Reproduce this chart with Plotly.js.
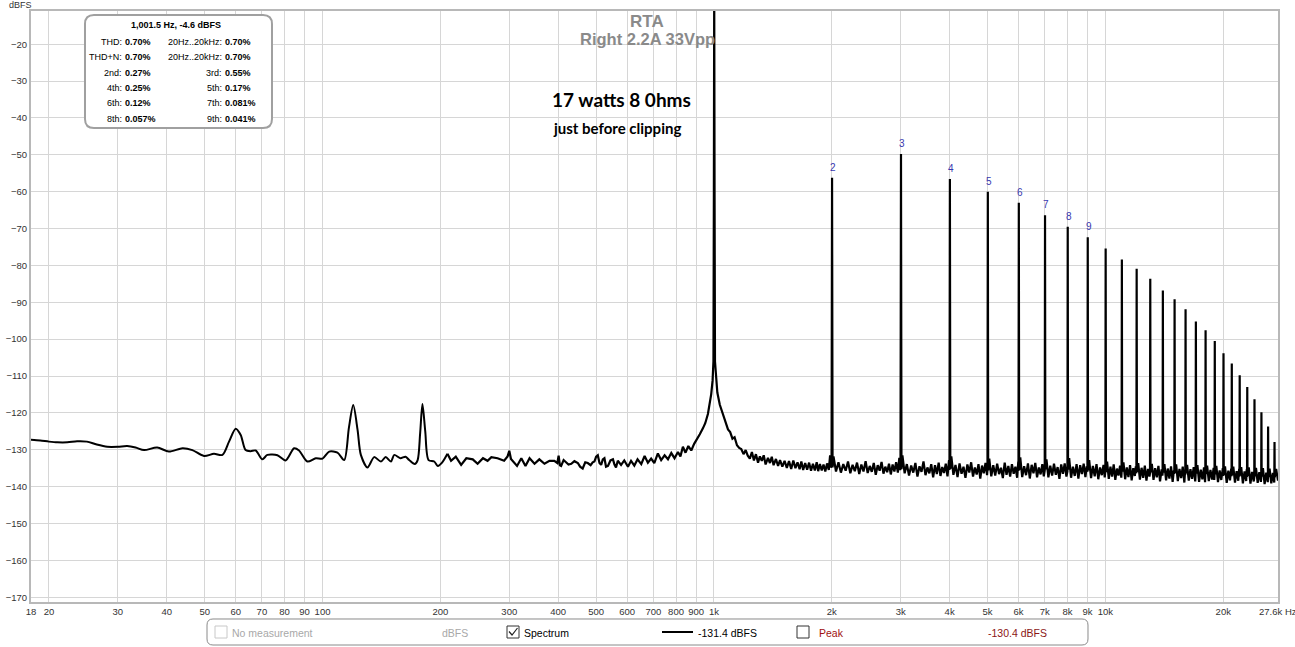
<!DOCTYPE html>
<html>
<head>
<meta charset="utf-8">
<script src="https://cdn.plot.ly/plotly-3.0.1.min.js"></script>
<style>
html,body{margin:0;padding:0;background:#fff;}
#chart{width:1295px;height:647px;}
</style>
</head>
<body>
<div id="chart"></div>
<script>
// ---------------- DATA ----------------
// Low-frequency part of the spectrum (smooth), Hz / dBFS
const lowFreq = [18, 19, 20, 21, 22.3, 23.6, 25, 26.5, 28.2, 30,
  31.7, 33.3, 35, 37.8, 40.5, 43.9, 46.5, 49.8, 52.8, 55.5,
  57.7, 60, 61.8, 63.6, 65.5, 67.5, 70.2, 72.3, 76.7, 80.5,
  84.6, 87.1, 91.5, 96.1, 100, 104, 109.2, 113.6, 116.8, 119.8,
  122.9, 125.3, 130.3, 135.5, 141, 145, 149.5, 152.5, 158, 163,
  166.5, 172, 175, 177.6, 180, 183, 186.6, 192.9, 197, 202,
  208.5];
const lowLevel = [-127.3, -127.5, -127.8, -128.0, -128.0, -127.7, -127.8, -128.6, -129.2, -129.2,
  -129.0, -129.4, -130.1, -129.4, -130.5, -129.6, -130.1, -131.7, -131.1, -131.4,
  -127.8, -124.3, -126.0, -130.1, -130.4, -130.2, -132.6, -131.4, -131.5, -132.9,
  -129.6, -130.2, -133.2, -132.3, -132.4, -130.5, -130.8, -132.8, -124.0, -117.9,
  -124.6, -131.4, -134.8, -132.0, -133.2, -132.0, -133.2, -131.4, -132.3, -131.9,
  -132.8, -133.9, -132.8, -125.5, -117.6, -125.0, -132.8, -133.2, -134.4, -133.5,
  -131.1];

// Rest of the spectrum (noise floor + fundamental), Hz / dBFS
const spectrumFreq = [
  208.5, 213, 219, 226, 233, 242, 249, 257, 264, 270,
  280, 291, 297, 300, 303, 306, 314, 322, 330, 338,
  348, 358, 369, 380, 391, 398, 401, 404, 407, 413,
  419, 425, 432, 440, 449, 455, 462, 469, 476, 484,
  490, 495, 500, 505, 510, 515, 520, 525, 530, 536,
  544, 552, 557, 562, 568, 573, 579, 590, 603, 614,
  626, 638, 652, 665, 678, 691, 704, 719, 733, 748,
  763, 778, 793, 809, 821, 833, 846, 860, 875, 890,
  900, 910, 920, 937, 950, 965, 975, 984, 992, 997,
  999.5, 1001.5, 1003.5, 1006, 1012, 1020, 1035, 1054, 1070, 1086,
  1100, 1115, 1129, 1145, 1160, 1174, 1190, 1205, 1220, 1235,
  1250, 1265, 1280, 1296, 1310, 1325, 1340, 1355, 1374, 1390,
  1405, 1420, 1440, 1458, 1475, 1495, 1515, 1535, 1555, 1575,
  1595, 1615, 1635, 1655, 1672, 1690, 1710, 1730, 1750, 1770,
  1790, 1810, 1830, 1846, 1865, 1885, 1905, 1925, 1945, 1965,
  1980, 1990, 1997, 2009, 2020, 2050, 2080, 2110, 2140, 2170,
  2200, 2230, 2260, 2290, 2320, 2350, 2380, 2410, 2440, 2470,
  2500, 2530, 2560, 2590, 2620, 2650, 2680, 2710, 2740, 2770,
  2800, 2830, 2860, 2890, 2920, 2950, 2975, 2990, 2996, 3013,
  3030, 3070, 3110, 3150, 3190, 3230, 3270, 3310, 3350, 3390,
  3430, 3470, 3510, 3550, 3590, 3630, 3670, 3710, 3750, 3790,
  3830, 3870, 3910, 3950, 3985, 3996, 4016, 4040, 4090, 4140,
  4190, 4240, 4290, 4340, 4390, 4440, 4490, 4540, 4590, 4640,
  4690, 4740, 4790, 4840, 4890, 4940, 4985, 4997, 5018, 5050,
  5110, 5170, 5230, 5290, 5350, 5410, 5470, 5530, 5590, 5650,
  5710, 5770, 5830, 5890, 5950, 5990, 5997, 6021, 6060, 6130,
  6200, 6270, 6340, 6410, 6480, 6550, 6620, 6690, 6760, 6830,
  6900, 6960, 6998, 7023, 7070, 7150, 7230, 7310, 7390, 7470,
  7550, 7630, 7710, 7790, 7870, 7950, 7998, 8026, 8080, 8170,
  8260, 8350, 8440, 8530, 8620, 8710, 8800, 8890, 8960, 8997,
  9030, 9090, 9190, 9290, 9390, 9490, 9590, 9690, 9790, 9890,
  9960, 9997, 10033, 10100, 10200, 10300, 10400, 10500, 10600, 10700,
  10800, 10900, 10980, 10998, 11035, 11120, 11230, 11340, 11450, 11560,
  11670, 11780, 11890, 11960, 11998, 12038, 12130, 12250, 12370, 12490,
  12610, 12730, 12850, 12960, 12999, 13040, 13140, 13270, 13400, 13530,
  13660, 13790, 13920, 13980, 13999, 14043, 14150, 14290, 14430, 14570,
  14710, 14850, 14960, 14999, 15046, 15160, 15310, 15460, 15610, 15760,
  15910, 15980, 15999, 16049, 16170, 16330, 16490, 16650, 16810, 16960,
  16999, 17052, 17180, 17350, 17520, 17690, 17860, 17970, 18000, 18054,
  18190, 18370, 18550, 18730, 18900, 18970, 19000, 19057, 19200, 19390,
  19580, 19770, 19950, 20001, 20059, 20210, 20410, 20610, 20810, 20960,
  21002, 21061, 21220, 21430, 21640, 21850, 21960, 22002, 22064, 22230,
  22450, 22670, 22890, 22960, 23003, 23066, 23240, 23470, 23700, 23930,
  24004, 24068, 24250, 24490, 24730, 24960, 25005, 25070, 25260, 25510,
  25760, 25990, 26006, 26072, 26270, 26530, 26790, 27000, 27007, 27074,
  27300, 27600];
const spectrumLevel = [
  -131.1, -133.0, -131.9, -134.1, -132.3, -132.6, -133.8, -132.3, -133.0, -132.0,
  -132.3, -133.0, -131.8, -130.3, -132.5, -133.0, -134.4, -132.3, -134.4, -132.3,
  -133.8, -132.6, -133.8, -133.0, -133.0, -133.6, -131.6, -134.2, -134.4, -132.8,
  -133.3, -134.0, -133.8, -133.1, -133.6, -134.6, -135.1, -133.4, -133.6, -134.2,
  -133.4, -133.2, -131.9, -131.5, -133.6, -134.1, -132.6, -132.3, -134.6, -134.4,
  -132.9, -132.6, -134.0, -134.8, -133.0, -133.6, -134.1, -132.9, -134.6, -133.0,
  -134.3, -132.6, -133.9, -131.7, -133.5, -132.4, -133.6, -131.0, -132.8, -131.5,
  -132.6, -130.9, -132.3, -130.6, -131.8, -129.2, -130.8, -129.0, -130.2, -128.4,
  -127.6, -126.9, -125.8, -124.2, -122.8, -120.3, -117.8, -114.9, -111.2, -106.0,
  -60.0, -4.6, -60.0, -106.0, -110.8, -114.5, -117.8, -120.2, -122.6, -124.5,
  -125.2, -127.0, -126.6, -128.8, -129.5, -129.8, -131.2, -130.1, -131.6, -132.4,
  -130.6, -132.9, -131.2, -133.5, -131.8, -133.0, -131.5, -134.0, -132.2, -133.6,
  -131.9, -134.2, -132.5, -134.4, -132.8, -134.6, -133.0, -134.9, -133.1, -135.2,
  -132.9, -135.0, -133.4, -135.3, -133.2, -135.5, -133.6, -135.4, -133.5, -135.7,
  -133.8, -135.6, -133.4, -135.8, -133.9, -135.6, -134.0, -135.9, -133.7, -135.5,
  -131.5, -134.8, -134.5, -134.8, -131.8, -135.9, -133.4, -136.2, -133.9, -135.7,
  -133.2, -136.4, -134.1, -135.8, -133.5, -136.6, -134.0, -135.9, -133.1, -136.3,
  -134.4, -136.0, -133.6, -136.8, -134.2, -135.7, -133.3, -136.5, -134.6, -136.1,
  -133.8, -136.7, -134.0, -135.9, -133.4, -136.2, -132.2, -135.5, -135.0, -135.3,
  -131.5, -136.4, -133.9, -137.0, -134.3, -136.2, -133.6, -137.3, -134.5, -136.0,
  -133.2, -136.9, -134.8, -136.4, -133.9, -137.5, -134.2, -136.6, -133.5, -137.1,
  -134.7, -136.3, -133.8, -137.2, -132.9, -135.5, -135.2, -131.8, -136.8, -134.1,
  -137.4, -133.7, -136.5, -134.6, -137.6, -134.0, -136.2, -133.4, -137.3, -134.8,
  -136.7, -133.9, -137.8, -134.3, -136.4, -133.6, -136.9, -135.4, -135.6, -132.4,
  -137.2, -134.2, -137.0, -133.8, -136.6, -134.9, -137.7, -133.5, -136.8, -134.4,
  -137.3, -133.9, -136.5, -134.6, -137.6, -133.2, -135.8, -135.5, -132.1, -137.4,
  -134.5, -136.9, -133.7, -137.8, -134.1, -136.4, -133.6, -137.5, -134.8, -136.7,
  -133.9, -137.2, -135.6, -135.3, -132.6, -137.5, -134.3, -137.0, -133.8, -136.8,
  -134.7, -137.9, -134.0, -136.5, -133.7, -137.3, -135.9, -135.4, -132.3, -137.6,
  -134.6, -137.1, -133.9, -137.8, -134.2, -136.6, -133.8, -137.4, -134.5, -136.0,
  -135.6, -132.8, -137.7, -134.4, -137.2, -133.9, -138.0, -134.8, -136.9, -134.1,
  -137.5, -135.8, -136.1, -133.2, -137.9, -134.6, -137.3, -134.0, -138.2, -135.1,
  -137.0, -134.3, -137.6, -136.2, -135.9, -133.4, -138.0, -134.8, -137.4, -134.2,
  -138.3, -135.0, -137.1, -134.5, -136.4, -136.0, -133.6, -138.1, -134.9, -137.6,
  -134.3, -138.4, -135.2, -137.3, -136.3, -136.1, -133.8, -138.2, -135.0, -137.5,
  -134.4, -138.6, -135.3, -137.0, -136.5, -136.2, -133.9, -138.3, -135.1, -137.8,
  -134.5, -138.7, -135.6, -136.6, -136.3, -134.0, -138.5, -135.2, -137.7, -134.6,
  -138.9, -135.7, -136.8, -136.4, -134.1, -138.4, -135.3, -137.9, -134.7, -138.6,
  -136.7, -136.5, -134.2, -138.7, -135.4, -138.0, -134.8, -138.8, -136.9, -136.6,
  -134.3, -138.5, -135.5, -138.1, -134.9, -138.2, -137.0, -136.7, -134.4, -138.8,
  -135.6, -138.2, -135.0, -137.1, -136.8, -134.5, -139.0, -135.7, -138.3, -135.1,
  -137.2, -136.9, -134.6, -138.9, -135.8, -138.4, -135.2, -137.3, -137.0, -134.7,
  -139.1, -135.9, -138.5, -135.3, -137.4, -137.1, -134.8, -139.2, -136.0, -138.6,
  -137.5, -137.2, -134.9, -139.0, -136.1, -138.7, -137.6, -137.3, -135.0, -139.3,
  -136.2, -138.8, -137.7, -137.4, -135.1, -139.1, -136.3, -138.9, -137.6, -137.5,
  -135.2, -138.4];

// Harmonic peaks
const harmonicOrder = [2, 3, 4, 5, 6, 7, 8, 9, 10, 11, 12, 13, 14, 15, 16, 17, 18, 19, 20, 21, 22, 23, 24, 25, 26, 27];
const harmonicFreq = [2003, 3004.5, 4006, 5007.5, 6009, 7010.5, 8012, 9013.5, 10015, 11016.5,
  12018, 13019.5, 14021, 15022.5, 16024, 17025.5, 18027, 19028.5, 20030, 21031.5,
  22033, 23034.5, 24036, 25037.5, 26039, 27040.5];
const harmonicLevel = [-56.2, -49.8, -56.6, -60.0, -63.0, -66.4, -69.5, -72.4, -75.4, -78.4,
  -80.9, -83.6, -86.8, -89.2, -91.9, -95.2, -97.6, -100.5, -103.8, -106.6,
  -109.8, -113.0, -116.3, -119.8, -123.7, -127.9];
const labelledOrders = [2, 3, 4, 5, 6, 7, 8, 9];

// Axis ticks
const xTickVals = [18, 20, 30, 40, 50, 60, 70, 80, 90, 100, 200, 300, 400, 500, 600, 700, 800, 900, 1000,
  2000, 3000, 4000, 5000, 6000, 7000, 8000, 9000, 10000, 20000];
const xTickText = ['18', '20', '30', '40', '50', '60', '70', '80', '90', '100', '200', '300', '400', '500', '600', '700', '800', '900', '1k',
  '2k', '3k', '4k', '5k', '6k', '7k', '8k', '9k', '10k', '20k'];
const yTickVals = [-170, -160, -150, -140, -130, -120, -110, -100, -90, -80, -70, -60, -50, -40, -30, -20];
const xRangeHz = [18, 27600];
const yRangeDb = [-171.3, -11.0];

// Texts
const titleLines = ['RTA', 'Right 2.2A 33Vpp'];
const noteLines = ['17 watts 8 0hms', 'just before clipping'];
const infoHeader = '1,001.5 Hz, -4.6 dBFS';
const infoLeftLabels = ['THD:', 'THD+N:', '2nd:', '4th:', '6th:', '8th:'];
const infoLeftValues = ['0.70%', '0.70%', '0.27%', '0.25%', '0.12%', '0.057%'];
const infoRightLabels = ['20Hz..20kHz:', '20Hz..20kHz:', '3rd:', '5th:', '7th:', '9th:'];
const infoRightValues = ['0.70%', '0.70%', '0.55%', '0.17%', '0.081%', '0.041%'];

// ---------------- LAYOUT HELPERS ----------------
const L = 31, R = 1278, T = 11, B = 602;
const W = R - L, H = B - T;
const px = x => (x - L) / W;
const py = y => (B - y) / H;
const FONT = 'Liberation Sans, Arial, sans-serif';

function roundRect(x0, y0, x1, y1, r) {
  const X = v => px(v).toFixed(5), Y = v => py(v).toFixed(5);
  return 'M' + X(x0 + r) + ',' + Y(y0) +
    ' L' + X(x1 - r) + ',' + Y(y0) + ' Q' + X(x1) + ',' + Y(y0) + ' ' + X(x1) + ',' + Y(y0 + r) +
    ' L' + X(x1) + ',' + Y(y1 - r) + ' Q' + X(x1) + ',' + Y(y1) + ' ' + X(x1 - r) + ',' + Y(y1) +
    ' L' + X(x0 + r) + ',' + Y(y1) + ' Q' + X(x0) + ',' + Y(y1) + ' ' + X(x0) + ',' + Y(y1 - r) +
    ' L' + X(x0) + ',' + Y(y0 + r) + ' Q' + X(x0) + ',' + Y(y0) + ' ' + X(x0 + r) + ',' + Y(y0) + ' Z';
}
function ann(x, y, text, size, color, anchor, extra) {
  return Object.assign({
    xref: 'paper', yref: 'paper', x: px(x), y: py(y), text: text, showarrow: false,
    xanchor: anchor || 'left', yanchor: 'middle', borderpad: 0,
    font: {family: FONT, size: size, color: color}
  }, extra || {});
}
function rectShape(x0, y0, x1, y1, color, width, fill) {
  return {type: 'rect', xref: 'paper', yref: 'paper', x0: px(x0), x1: px(x1), y0: py(y0), y1: py(y1),
    line: {color: color, width: width}, fillcolor: fill || 'rgba(0,0,0,0)', layer: 'above'};
}

// ---------------- TRACES ----------------
const pts = spectrumFreq.map((f, i) => [f, spectrumLevel[i]])
  .concat(harmonicFreq.map((f, i) => [f, harmonicLevel[i]]))
  .sort((a, b) => a[0] - b[0]);

const traces = [
  {x: lowFreq, y: lowLevel, type: 'scatter', mode: 'lines',
   line: {color: '#000', width: 2, shape: 'spline', smoothing: 0.8}, hoverinfo: 'skip'},
  {x: pts.map(p => p[0]), y: pts.map(p => p[1]), type: 'scatter', mode: 'lines',
   line: {color: '#000', width: 2.2}, hoverinfo: 'skip'}
];

// ---------------- ANNOTATIONS ----------------
const annotations = [];
annotations.push(ann(8, 5, 'dBFS', 9, '#333'));
annotations.push(ann(1258, 612, '27.6k Hz', 9.5, '#333'));
annotations.push(ann(647, 21, '<b>' + titleLines[0] + '</b>', 17, '#8a8a8a', 'center'));
annotations.push(ann(647, 39.5, '<b>' + titleLines[1] + '</b>', 16.5, '#8a8a8a', 'center'));
annotations.push(ann(621, 99.5, '<b>' + noteLines[0] + '</b>', 19, '#000', 'center', {font: {family: 'Lato, sans-serif', size: 19, color: '#000'}}));
annotations.push(ann(616.5, 127.5, '<b>' + noteLines[1] + '</b>', 15, '#000', 'center', {font: {family: 'Lato, sans-serif', size: 15, color: '#000'}}));

// info box text
annotations.push(ann(176, 25.5, '<b>' + infoHeader + '</b>', 9, '#000', 'center'));
const rowY = [42.3, 57.4, 72.6, 87.9, 103.2, 118.6];
rowY.forEach((y, i) => {
  annotations.push(ann(122.5, y, infoLeftLabels[i], 9, '#000', 'right'));
  annotations.push(ann(124, y, '<b>' + infoLeftValues[i] + '</b>', 9, '#000', 'left'));
  annotations.push(ann(222.5, y, infoRightLabels[i], 9, '#000', 'right'));
  annotations.push(ann(224, y, '<b>' + infoRightValues[i] + '</b>', 9, '#000', 'left'));
});

// harmonic labels
labelledOrders.forEach(n => {
  const i = harmonicOrder.indexOf(n);
  annotations.push({xref: 'x', yref: 'y', x: Math.log10(harmonicFreq[i]), y: harmonicLevel[i],
    text: String(n), showarrow: false, xanchor: 'center', yanchor: 'bottom', yshift: 4, xshift: 1,
    borderpad: 0, font: {family: FONT, size: 10, color: '#3838b0'}});
});

// legend text
annotations.push(ann(231, 632.5, 'No measurement', 10.5, '#a8a8a8'));
annotations.push(ann(441, 632.5, 'dBFS', 10.5, '#a8a8a8'));
annotations.push(ann(523, 632.5, 'Spectrum', 10.5, '#000'));
annotations.push(ann(697, 632.5, '-131.4 dBFS', 10.5, '#000'));
annotations.push(ann(818, 632.5, 'Peak', 10.5, '#a01010'));
annotations.push(ann(987, 632.5, '-130.4 dBFS', 10.5, '#8b1515'));

// ---------------- SHAPES ----------------
const shapes = [];
// info box
shapes.push({type: 'path', xref: 'paper', yref: 'paper', path: roundRect(85, 15, 272, 128, 9),
  line: {color: '#a0a0a0', width: 2}, fillcolor: '#fff', layer: 'above'});
// legend box
shapes.push({type: 'path', xref: 'paper', yref: 'paper', path: roundRect(207, 619, 1088, 645, 6),
  line: {color: '#8a8a8a', width: 1}, fillcolor: '#fff', layer: 'above'});
// checkboxes
shapes.push(rectShape(215, 626, 227, 638, '#c8c8c8', 1, '#fff'));
shapes.push(rectShape(507, 626, 519, 638, '#333', 1, '#fff'));
shapes.push(rectShape(797, 626, 809, 638, '#333', 1, '#fff'));
shapes.push({type: 'path', xref: 'paper', yref: 'paper',
  path: 'M' + px(509) + ',' + py(631.5) + ' L' + px(512) + ',' + py(635) + ' L' + px(517.5) + ',' + py(628),
  line: {color: '#222', width: 1.2}, layer: 'above'});
// legend line sample
shapes.push({type: 'line', xref: 'paper', yref: 'paper', x0: px(662), x1: px(693), y0: py(632), y1: py(632),
  line: {color: '#000', width: 2}, layer: 'above'});

// ---------------- LAYOUT ----------------
const layout = {
  width: 1295, height: 647,
  margin: {l: L, r: 1295 - R, t: T, b: 647 - B, pad: 0},
  paper_bgcolor: '#fff', plot_bgcolor: '#fff',
  showlegend: false, hovermode: false,
  xaxis: {type: 'log', range: [Math.log10(xRangeHz[0]), Math.log10(xRangeHz[1])],
    tickmode: 'array', tickvals: xTickVals, ticktext: xTickText, ticks: '',
    showgrid: true, gridcolor: '#d6d6d6', gridwidth: 1, zeroline: false,
    showline: true, linecolor: '#b8b8b8', linewidth: 2, mirror: true,
    tickfont: {family: FONT, size: 9.5, color: '#333'}, fixedrange: true},
  yaxis: {range: yRangeDb, tickmode: 'array', tickvals: yTickVals, ticks: '',
    showgrid: true, gridcolor: '#d6d6d6', gridwidth: 1, zeroline: false,
    showline: true, linecolor: '#b8b8b8', linewidth: 2, mirror: true,
    tickfont: {family: FONT, size: 9.5, color: '#333'}, fixedrange: true},
  annotations: annotations,
  shapes: shapes
};

Plotly.newPlot('chart', traces, layout, {displayModeBar: false, staticPlot: true});
</script>
</body>
</html>
